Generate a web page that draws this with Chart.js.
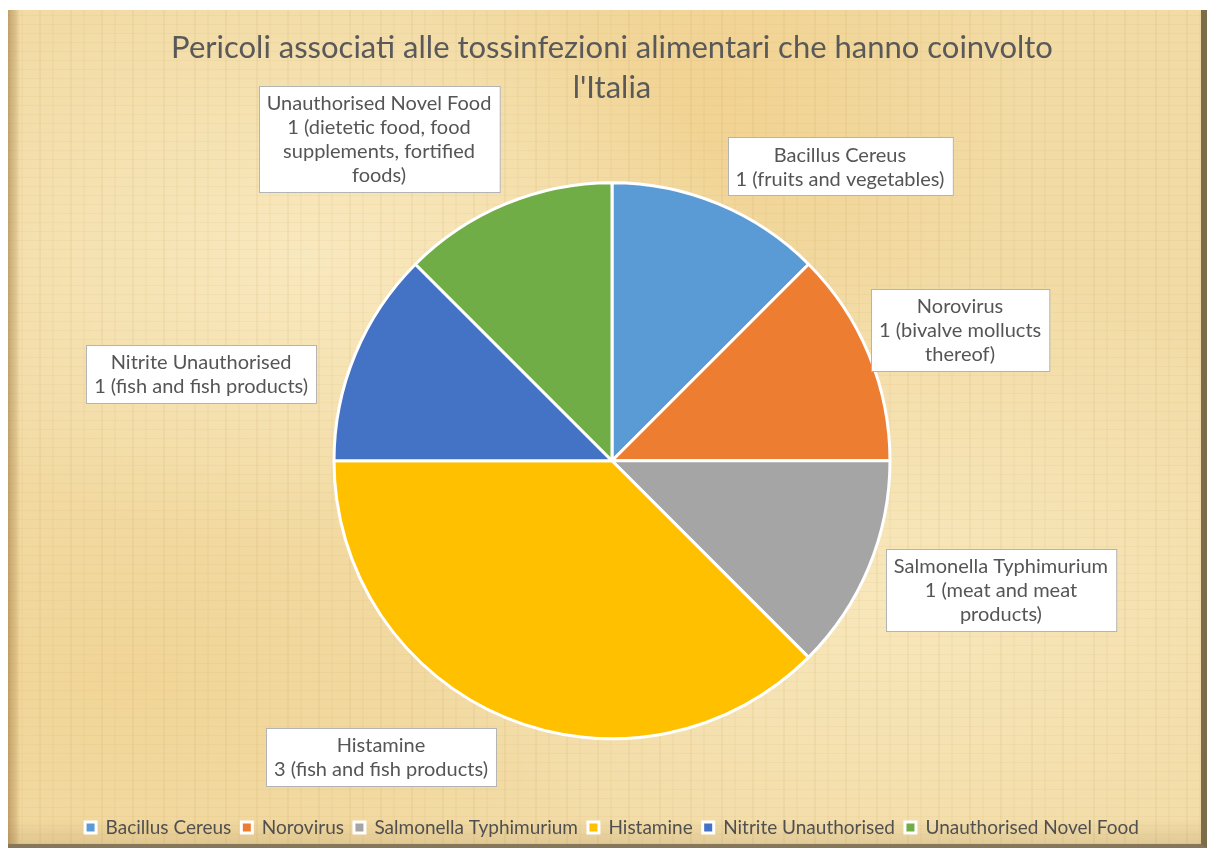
<!DOCTYPE html>
<html>
<head>
<meta charset="utf-8">
<title>Pericoli associati alle tossinfezioni alimentari</title>
<script src="https://cdn.jsdelivr.net/npm/chart.js@4.4.0/dist/chart.umd.min.js"></script>
<style>
  html, body { margin: 0; padding: 0; background: #fff; }
  body { width: 1212px; height: 852px; position: relative; overflow: hidden; }
  #frame {
    position: absolute; left: 8px; top: 10px; width: 1193px; height: 834px;
    border-right: 6px solid #7b6c4c; border-bottom: 4px solid #86775a;
    background:
      linear-gradient(90deg, rgba(140,100,45,0.45) 0, rgba(160,120,60,0.25) 8px, rgba(0,0,0,0) 12px),
      linear-gradient(180deg, rgba(0,0,0,0) 97%, rgba(120,95,50,0.15) 100%),
      repeating-linear-gradient(90deg, rgba(190,150,80,0.10) 0 2px, rgba(255,255,255,0) 2px 13px, rgba(200,160,90,0.07) 13px 15px, rgba(255,255,255,0) 15px 31px),
      repeating-linear-gradient(0deg, rgba(190,150,80,0.08) 0 1px, rgba(255,255,255,0) 1px 9px),
      radial-gradient(ellipse at 25% 30%, rgba(255,246,215,0.5), rgba(255,246,215,0) 35%),
      radial-gradient(ellipse at 75% 70%, rgba(255,246,215,0.45), rgba(255,246,215,0) 40%),
      radial-gradient(ellipse at 60% 10%, rgba(240,195,110,0.35), rgba(240,195,110,0) 30%),
      radial-gradient(ellipse at 10% 80%, rgba(240,200,120,0.3), rgba(240,200,120,0) 30%),
      #f2dba5;
  }
  #chart { position: absolute; left: 0; top: 0; }
</style>
</head>
<body>
<div id="frame"></div>
<canvas id="chart" width="1212" height="852"></canvas>
<script>
// dati
const hazards = ["Bacillus Cereus", "Norovirus", "Salmonella Typhimurium", "Histamine", "Nitrite Unauthorised", "Unauthorised Novel Food"];
const cases = [1, 1, 1, 3, 1, 1];
// "|" = a capo nell'etichetta
const foodCategories = [
  "fruits and vegetables",
  "bivalve mollucts|thereof",
  "meat and meat|products",
  "fish and fish products",
  "fish and fish products",
  "dietetic food, food|supplements, fortified|foods"
];
const titleLines = ["Pericoli associati alle tossinfezioni alimentari che hanno coinvolto", "l'Italia"];

const sliceColors = ["#5b9bd5", "#ed7d31", "#a5a5a5", "#ffc000", "#4472c4", "#70ad47"];
// posizione delle etichette rispetto al centro, in raggi
const labelOffsets = [[0.82, -1.06], [1.252, -0.471], [1.399, 0.464], [-0.831, 1.065], [-1.478, -0.313], [-0.838, -1.158]];

const FONT = "Lato, 'Open Sans', sans-serif";

// ===============================
// etichette a riquadro bianco
// ===============================
const labelBoxes = {
  id: "labelBoxes",
  afterDatasetsDraw(chart) {
    const ctx = chart.ctx;
    const arcs = chart.getDatasetMeta(0).data;
    ctx.save();
    ctx.font = "20px " + FONT;
    ctx.textAlign = "center";
    ctx.textBaseline = "middle";
    arcs.forEach((arc, i) => {
      const lines = [hazards[i]];
      const parts = `${cases[i]} (${foodCategories[i]})`.split("|");
      parts.forEach(p => lines.push(p));
      const r = arc.outerRadius;
      const cx = arc.x + labelOffsets[i][0] * r;
      const cy = arc.y + labelOffsets[i][1] * r;
      const lh = 24;
      const w = Math.max(...lines.map(l => ctx.measureText(l).width)) + 16;
      const h = lines.length * lh + 10;
      const x0 = Math.round(cx - w / 2) + 0.5;
      const y0 = Math.round(cy - h / 2) + 0.5;
      ctx.fillStyle = "#ffffff";
      ctx.fillRect(x0, y0, w, h);
      ctx.strokeStyle = "#b4b4b4";
      ctx.lineWidth = 1;
      ctx.strokeRect(x0, y0, w, h);
      ctx.fillStyle = "#555555";
      lines.forEach((l, k) => {
        ctx.fillText(l, cx, cy - (lines.length - 1) * lh / 2 + k * lh + 1);
      });
    });
    ctx.restore();
  }
};

new Chart(document.getElementById("chart"), {
  type: "pie",
  data: {
    labels: hazards,
    datasets: [{
      data: cases,
      backgroundColor: sliceColors,
      borderColor: "#ffffff",
      borderWidth: 3,
      radius: 278,
    }],
  },
  options: {
    responsive: false,
    animation: false,
    layout: { padding: { left: 12, right: 0, top: 0, bottom: 5 } },
    plugins: {
      title: {
        display: true,
        text: titleLines,
        color: "#595959",
        font: { family: FONT, size: 31, weight: "normal", lineHeight: 1.3 },
        padding: { top: 28, bottom: 5 },
      },
      legend: {
        position: "bottom",
        labels: {
          color: "#505050",
          font: { family: FONT, size: 19 },
          boxWidth: 11,
          boxHeight: 11,
          padding: 10,
        },
      },
      tooltip: { enabled: false },
    },
  },
  plugins: [labelBoxes],
});
</script>
</body>
</html>
